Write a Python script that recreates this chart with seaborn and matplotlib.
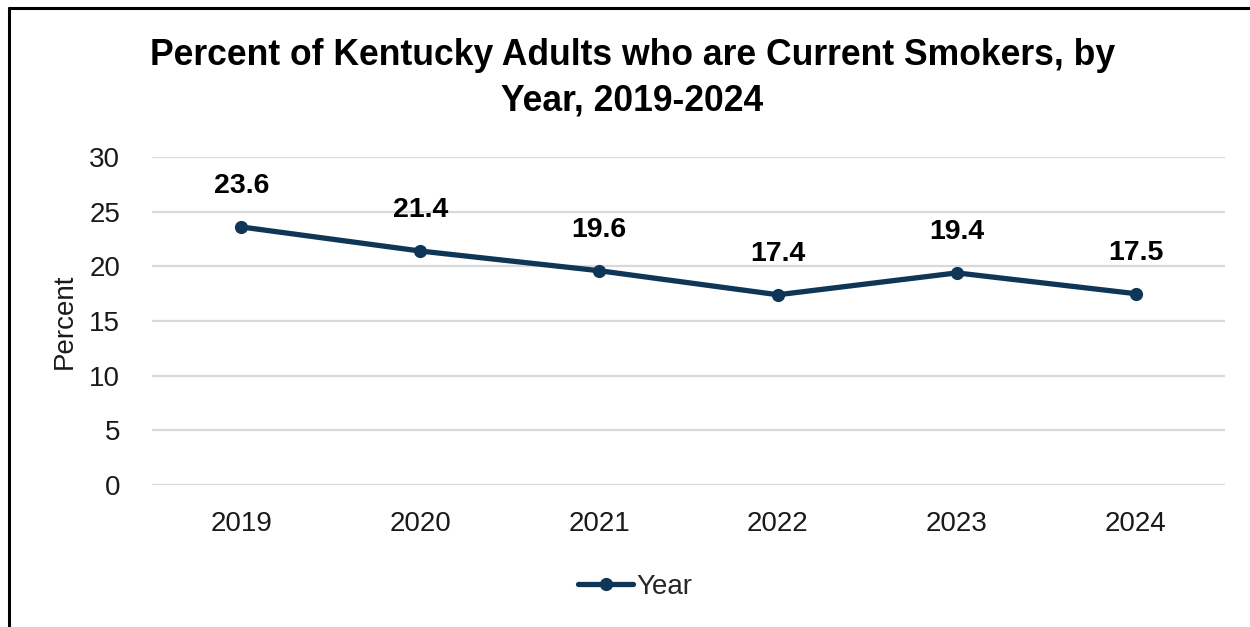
import matplotlib
matplotlib.use("Agg")
import matplotlib.pyplot as plt
from matplotlib.lines import Line2D
import seaborn as sns
import pandas as pd

years = ["2019", "2020", "2021", "2022", "2023", "2024"]
percent_smokers = [23.6, 21.4, 19.6, 17.4, 19.4, 17.5]
y_ticks = [0, 5, 10, 15, 20, 25, 30]

title = "Percent of Kentucky Adults who are Current Smokers, by\nYear, 2019-2024"
line_color = "#0f3657"

sns.set_theme(style="white")
plt.rcParams["font.family"] = ["Liberation Sans", "DejaVu Sans"]

df = pd.DataFrame({"Year": years, "Percent": percent_smokers})

fig = plt.figure(figsize=(12.5, 6.27), dpi=100)
ax = fig.add_axes([152 / 1250, 1 - 485 / 627, (1225 - 152) / 1250, (485 - 157) / 627])

sns.lineplot(data=df, x="Year", y="Percent", ax=ax, color=line_color,
             linewidth=3.8, marker="o", markersize=9.5, markeredgewidth=0,
             sort=False, legend=False)

ax.set_xlim(-0.5, len(years) - 0.5)
ax.set_ylim(0, 30)
ax.set_yticks(y_ticks)
ax.set_yticklabels([str(t) for t in y_ticks])
ax.grid(axis="y", color="#d9d9d9", linewidth=1.6)
ax.set_axisbelow(True)
for s in ax.spines.values():
    s.set_visible(False)
ax.tick_params(axis="both", length=0, labelsize=20, colors="#1a1a1a")
ax.tick_params(axis="y", pad=23)
ax.tick_params(axis="x", pad=19)
ax.set_xlabel("")
ax.set_ylabel("Percent", fontsize=20, color="#1a1a1a", labelpad=8)

for i, v in enumerate(percent_smokers):
    ax.annotate(f"{v:.1f}", (i, v), xytext=(0, 20), textcoords="offset points",
                ha="center", va="bottom", fontsize=20.5, fontweight="bold",
                color="#000000")

fig.text(0.506, 1 - 78.5 / 627, title, ha="center", va="center", fontsize=25.6,
         fontweight="bold", color="#000000", linespacing=1.4)

handle = Line2D([], [], color=line_color, linewidth=3.8, marker="o",
                markersize=9.5, markeredgewidth=0)
fig.legend([handle], ["Year"], loc="center", bbox_to_anchor=(0.508, 1 - 587 / 627),
           frameon=False, fontsize=20, handlelength=2.0, handletextpad=0.1)

# outer frame: left and top edges
fig.add_artist(Line2D([8.5 / 1250, 8.5 / 1250], [0, 1 - 8 / 627], color="black",
                      linewidth=2.2, transform=fig.transFigure))
fig.add_artist(Line2D([8.5 / 1250, 1], [1 - 8 / 627, 1 - 8 / 627], color="black",
                      linewidth=2.2, transform=fig.transFigure))

fig.savefig("out.png", dpi=100, facecolor="white")
